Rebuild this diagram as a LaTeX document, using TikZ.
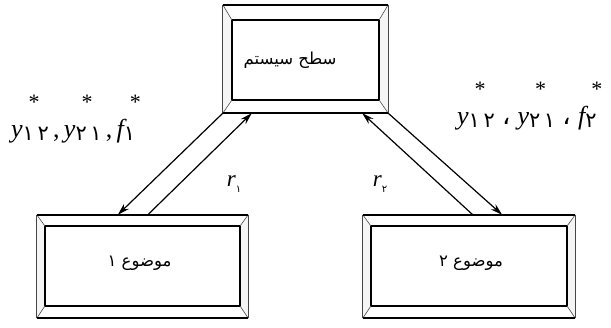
\documentclass[tikz,border=0pt]{standalone}
\usepackage{fontspec}
\setmainfont{Liberation Serif}
\newfontfamily\farsi[Script=Arabic]{DejaVu Sans}
\TeXXeTstate=1
\usetikzlibrary{arrows.meta,positioning}

% bevelled frame round a named node: name, side inset, top inset, bottom inset
\newcommand{\bevelframe}[4]{%
  \fill[gray!8] (#1.north west) -- ([shift={(#2,#3)}]#1.north west) -- ([shift={(#2,-#4)}]#1.south west) -- (#1.south west) -- cycle;
  \fill[gray!8] (#1.north east) -- ([shift={(-#2,#3)}]#1.north east) -- ([shift={(-#2,-#4)}]#1.south east) -- (#1.south east) -- cycle;
  \draw[line width=0.6pt, gray!60!black] (#1.north west) -- ([shift={(#2,#3)}]#1.north west)
    (#1.north east) -- ([shift={(-#2,#3)}]#1.north east)
    (#1.south west) -- ([shift={(#2,-#4)}]#1.south west)
    (#1.south east) -- ([shift={(-#2,-#4)}]#1.south east);
  \draw[line width=1pt, gray!55!black] (#1.north west) -- (#1.south west) (#1.north east) -- (#1.south east);
  \draw[line width=1.5pt] ([shift={(#2,#3)}]#1.north west) -- ([shift={(#2,-#4)}]#1.south west)
    ([shift={(-#2,#3)}]#1.north east) -- ([shift={(-#2,-#4)}]#1.south east);
  \draw[line width=2.4pt] (#1.north west) -- (#1.north east) (#1.south west) -- (#1.south east)
    ([shift={(#2,#3)}]#1.north west) -- ([shift={(-#2,#3)}]#1.north east)
    ([shift={(#2,-#4)}]#1.south west) -- ([shift={(-#2,-#4)}]#1.south east);
}
% variable with star and Persian subscript
\newcommand{\starvar}[2]{{\itshape #1}\rlap{\hspace{6pt}\raisebox{1.1em}{\fontsize{22}{22}\selectfont *}}\raisebox{-0.1em}{\farsi\fontsize{21}{22}\selectfont #2}}
\newcommand{\rate}[1]{{\itshape r}\raisebox{-0.25em}{\farsi\fontsize{10}{11}\selectfont #1}}

\begin{document}
\begin{tikzpicture}[x=1pt, y=-1pt,
    box/.style={inner sep=0pt, font=\farsi\fontsize{16.5}{18}\selectfont},
    label/.style={anchor=west, inner sep=0pt, font=\fontsize{26}{28}\selectfont},
    arr/.style={line width=1.2pt, -{Stealth[length=12pt, width=7pt]}}]
  \useasboundingbox (0,0) rectangle (611,327);

  \node[box, minimum width=165pt, minimum height=108pt] (system) at (305.5,59) {};
  \node[box, minimum width=211pt, minimum height=103pt] (sub1) at (142.5,266.5) {};
  \node[box, minimum width=212pt, minimum height=103pt] (sub2) at (469,266.5) {};

  \bevelframe{system}{9}{15}{13}
  \bevelframe{sub1}{8}{11}{12}
  \bevelframe{sub2}{8}{11}{12}

  \node[box] (systemtext) at (290,60) {\beginR سطح سیستم\endR};
  \node[box] (sub1text) at (139.5,263) {\beginR موضوع ۱\endR};
  \node[box] (sub2text) at (471,263) {\beginR موضوع ۲\endR};

  % links
  \draw[arr] (system.south west) -- ([xshift=81pt]sub1.north west);
  \draw[arr] ([xshift=111pt]sub1.north west) -- ([xshift=29pt]system.south west);
  \draw[arr] (system.south east) -- ([xshift=-73pt]sub2.north east);
  \draw[arr] ([xshift=110pt]sub2.north west) -- ([xshift=-26pt]system.south east);

  \node[font=\fontsize{23}{24}\selectfont] (r1) at (234,184) {\rate{۱}};
  \node[font=\fontsize{23}{24}\selectfont] (r2) at (380,184) {\rate{۲}};

  \node[label] (left) at (11,119)
    {\starvar{y}{۱\,۲}\,,\,\starvar{y}{۲\,۱}\,,\,\starvar{f}{۱}};
  \node[label] (right) at (457,106)
    {\starvar{y}{۱\,۲}\;{\farsi ،}\;\starvar{y}{۲\,۱}\;{\farsi ،}\;\starvar{f}{۲}};
\end{tikzpicture}
\end{document}
